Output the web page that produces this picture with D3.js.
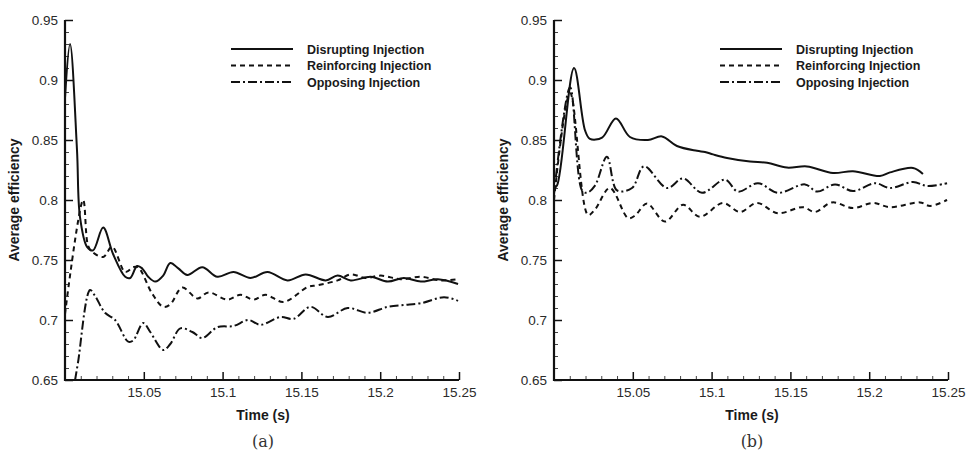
<!DOCTYPE html>
<html>
<head>
<meta charset="utf-8">
<script src="https://cdn.jsdelivr.net/npm/d3@7"></script>
<style>
  body { margin: 0; background: #fff; }
  svg text { font-family: "Liberation Sans", Arial, sans-serif; }
</style>
</head>
<body>
<div id="chart"></div>
<script>
// ---- data: [time (s), average efficiency] ----
var seriesNames = ["Disrupting Injection", "Reinforcing Injection", "Opposing Injection"];
var yTicks = [0.65, 0.7, 0.75, 0.8, 0.85, 0.9, 0.95];
var xTicks = [15.05, 15.1, 15.15, 15.2, 15.25];
var panelLabels = ["(a)", "(b)"];

// panel (a)
var aDisrupting = [[15.000,0.885],[15.0032,0.930],[15.0076,0.842],[15.0095,0.786],[15.014,0.761],[15.0178,0.758],
  [15.0242,0.777],[15.0305,0.755],[15.0382,0.736],[15.0414,0.735],[15.0458,0.745],[15.049,0.743],[15.0528,0.736],
  [15.0573,0.732],[15.0623,0.737],[15.0668,0.7475],[15.0719,0.743],[15.0776,0.7375],[15.0871,0.744],[15.0967,0.736],
  [15.1069,0.740],[15.1177,0.735],[15.1285,0.740],[15.1412,0.733],[15.1527,0.738],[15.1654,0.733],[15.173,0.737],
  [15.1813,0.733],[15.194,0.736],[15.2048,0.732],[15.215,0.735],[15.2258,0.732],[15.2366,0.734],[15.2494,0.730]];
var aReinforcing = [[15.000,0.705],[15.0115,0.800],[15.0146,0.762],[15.0172,0.757],[15.0242,0.7525],[15.0299,0.761],
  [15.0382,0.740],[15.0433,0.744],[15.0464,0.744],[15.0553,0.722],[15.0623,0.711],[15.0668,0.713],[15.0744,0.727],
  [15.084,0.718],[15.091,0.723],[15.1031,0.717],[15.1113,0.721],[15.1196,0.717],[15.1272,0.721],[15.1387,0.715],
  [15.154,0.7275],[15.1603,0.729],[15.173,0.733],[15.1813,0.738],[15.1908,0.735],[15.2004,0.737],[15.2131,0.734],
  [15.2258,0.736],[15.2385,0.733],[15.2494,0.734]];
var aOpposing = [[15.0064,0.650],[15.0083,0.665],[15.0159,0.725],[15.0191,0.720],[15.0254,0.706],[15.0318,0.700],
  [15.0401,0.682],[15.0433,0.683],[15.0496,0.6975],[15.0541,0.690],[15.0623,0.675],[15.0668,0.680],[15.0732,0.693],
  [15.0808,0.690],[15.0871,0.685],[15.0967,0.694],[15.1069,0.695],[15.1164,0.700],[15.124,0.696],[15.1368,0.7025],
  [15.145,0.701],[15.1558,0.711],[15.1667,0.7025],[15.1794,0.710],[15.1921,0.706],[15.2048,0.711],[15.215,0.7125],
  [15.2258,0.714],[15.2405,0.719],[15.2494,0.716]];

// panel (b)
var bDisrupting = [[15.000,0.810],[15.0019,0.812],[15.0127,0.910],[15.0197,0.858],[15.0228,0.851],[15.0305,0.852],
  [15.0393,0.868],[15.0482,0.8525],[15.0596,0.850],[15.0685,0.853],[15.078,0.845],[15.0907,0.841],[15.0958,0.840],
  [15.1009,0.838],[15.1098,0.835],[15.1244,0.832],[15.1352,0.831],[15.1478,0.827],[15.1605,0.828],[15.177,0.8225],
  [15.1897,0.824],[15.2068,0.820],[15.2132,0.823],[15.2278,0.8267],[15.2341,0.8217]];
var bReinforcing = [[15.000,0.800],[15.0102,0.889],[15.0216,0.7875],[15.026,0.792],[15.0355,0.810],[15.047,0.785],
  [15.0514,0.787],[15.059,0.797],[15.0704,0.782],[15.0819,0.796],[15.0926,0.786],[15.1072,0.7975],[15.118,0.790],
  [15.1288,0.7975],[15.1421,0.789],[15.158,0.794],[15.1656,0.790],[15.1764,0.798],[15.1897,0.7933],[15.2024,0.7975],
  [15.2132,0.794],[15.2322,0.798],[15.2386,0.795],[15.2494,0.800]];
var bOpposing = [[15.000,0.805],[15.0102,0.894],[15.0178,0.808],[15.0209,0.806],[15.026,0.812],[15.0336,0.836],
  [15.040,0.808],[15.0495,0.810],[15.0571,0.828],[15.0717,0.810],[15.0819,0.818],[15.0939,0.806],[15.1085,0.817],
  [15.1167,0.807],[15.1294,0.814],[15.1421,0.806],[15.1593,0.813],[15.1669,0.807],[15.1783,0.813],[15.1897,0.8075],
  [15.2037,0.814],[15.2132,0.810],[15.2278,0.815],[15.2367,0.8117],[15.2494,0.814]];

var panels = [
  {left: 65, label: panelLabels[0], series: [aDisrupting, aReinforcing, aOpposing]},
  {left: 554, label: panelLabels[1], series: [bDisrupting, bReinforcing, bOpposing]}
];

var width = 968, height = 457;
var plotW = 394, plotTop = 20, plotBottom = 380;
var dashes = ["none", "5,4", "9,3,2,3"];

var svg = d3.select("#chart").append("svg")
  .attr("width", width)
  .attr("height", height);

panels.forEach(function(p) {
  var x = d3.scaleLinear().domain([15.0, 15.25]).range([p.left, p.left + plotW]);
  var y = d3.scaleLinear().domain([0.65, 0.95]).range([plotBottom, plotTop]);
  var g = svg.append("g");

  // minor ticks (0.01 steps), pointing into the plot
  var minorY = d3.range(0.66, 0.95, 0.01).filter(function(v) { return Math.abs(Math.round(v * 20) - v * 20) > 0.01; });
  var minorX = d3.range(15.01, 15.25, 0.01).filter(function(v) { return Math.abs(Math.round(v * 20) - v * 20) > 0.01; });

  g.append("g")
    .attr("transform", "translate(" + p.left + ",0)")
    .call(d3.axisRight(y).tickValues(minorY).tickSize(4).tickFormat(""))
    .call(function(a) { a.select(".domain").remove(); a.selectAll("line").attr("stroke", "#444"); });
  g.append("g")
    .attr("transform", "translate(0," + plotBottom + ")")
    .call(d3.axisTop(x).tickValues(minorX).tickSize(4).tickFormat(""))
    .call(function(a) { a.select(".domain").remove(); a.selectAll("line").attr("stroke", "#444"); });

  // major ticks
  var yAx = g.append("g")
    .attr("transform", "translate(" + p.left + ",0)")
    .call(d3.axisRight(y).tickValues(yTicks).tickSize(8).tickFormat(d3.format("")));
  yAx.selectAll("text").attr("x", -7).attr("text-anchor", "end").attr("dy", "0.35em");
  var xAx = g.append("g")
    .attr("transform", "translate(0," + plotBottom + ")")
    .call(d3.axisTop(x).tickValues(xTicks).tickSize(8).tickFormat(d3.format("")));
  xAx.selectAll("text").attr("y", 17).attr("dy", 0);
  [yAx, xAx].forEach(function(a) {
    a.select(".domain").remove();
    a.selectAll("line").attr("stroke", "#111").attr("stroke-width", 1.5);
    a.selectAll("text").attr("fill", "#2a2a2a").style("font-size", "13.5px");
  });

  // axis lines
  g.append("line").attr("x1", p.left).attr("x2", p.left).attr("y1", plotTop).attr("y2", plotBottom + 1)
    .attr("stroke", "#111").attr("stroke-width", 2.2);
  g.append("line").attr("x1", p.left - 1).attr("x2", p.left + plotW).attr("y1", plotBottom).attr("y2", plotBottom)
    .attr("stroke", "#111").attr("stroke-width", 2.2);

  // curves
  var line = d3.line()
    .x(function(d) { return x(d[0]); })
    .y(function(d) { return y(d[1]); })
    .curve(d3.curveCatmullRom.alpha(0.5));
  p.series.forEach(function(s, i) {
    g.append("path")
      .attr("d", line(s))
      .attr("fill", "none")
      .attr("stroke", "#111")
      .attr("stroke-width", 2)
      .attr("stroke-dasharray", dashes[i]);
  });

  // legend
  seriesNames.forEach(function(name, i) {
    var ly = 49 + i * 16.5;
    g.append("line")
      .attr("x1", p.left + 166).attr("x2", p.left + 228)
      .attr("y1", ly).attr("y2", ly)
      .attr("stroke", "#111").attr("stroke-width", 2)
      .attr("stroke-dasharray", dashes[i]);
    g.append("text")
      .attr("x", p.left + 242).attr("y", ly + 4.5)
      .attr("fill", "#1a1a1a")
      .style("font-size", "12.5px").style("font-weight", "bold")
      .text(name);
  });

  // axis titles
  g.append("text")
    .attr("transform", "translate(" + (p.left - 46) + "," + ((plotTop + plotBottom) / 2) + ") rotate(-90)")
    .attr("text-anchor", "middle")
    .attr("fill", "#1a1a1a")
    .style("font-size", "14px").style("font-weight", "bold")
    .text("Average efficiency");
  g.append("text")
    .attr("x", p.left + plotW / 2 + 1).attr("y", 420)
    .attr("text-anchor", "middle")
    .attr("fill", "#1a1a1a")
    .style("font-size", "14px").style("font-weight", "bold")
    .text("Time (s)");
  g.append("text")
    .attr("x", p.left + plotW / 2 + 1).attr("y", 447)
    .attr("text-anchor", "middle")
    .attr("fill", "#333")
    .style("font-family", "'DejaVu Serif', 'Liberation Serif', serif")
    .style("font-size", "16px")
    .text(p.label);
});
</script>
</body>
</html>
